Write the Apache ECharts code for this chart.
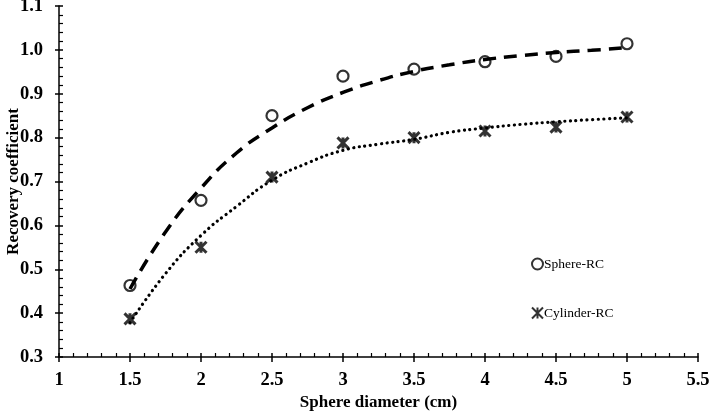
<!DOCTYPE html>
<html>
<head>
<meta charset="utf-8">
<script src="https://cdn.jsdelivr.net/npm/echarts@6/dist/echarts.min.js"></script>
<style>
  html, body { margin: 0; padding: 0; background: #fff; }
  #chart { width: 709px; height: 415px; }
</style>
</head>
<body>
<div id="chart"></div>
<script>
// measured points
var diameters = [1.5, 2, 2.5, 3, 3.5, 4, 4.5, 5];
var sphereRC = [0.463, 0.657, 0.850, 0.940, 0.956, 0.973, 0.985, 1.014];
var cylinderRC = [0.387, 0.550, 0.710, 0.788, 0.800, 0.815, 0.824, 0.847];

// fitted trend curves
var fitX = [1.5, 1.75, 2, 2.25, 2.5, 2.75, 3, 3.25, 3.5, 3.75, 4, 4.25, 4.5, 4.75, 5];
var sphereFit = [0.455, 0.585, 0.685, 0.765, 0.822, 0.868, 0.903, 0.930, 0.951, 0.966, 0.978, 0.987, 0.994, 0.999, 1.005];
var cylinderFit = [0.378, 0.490, 0.577, 0.643, 0.703, 0.742, 0.771, 0.785, 0.796, 0.812, 0.822, 0.830, 0.836, 0.841, 0.845];

function pairs(xs, ys) {
    return xs.map(function (x, i) { return [x, ys[i]]; });
}

var font = 'Liberation Serif';
var starPath = 'path://M0,0L10,10M10,0L0,10M5,0L5,10';

var chart = echarts.init(document.getElementById('chart'));

var option = {
    animation: false,
    backgroundColor: '#fff',
    grid: { left: 59, right: 11, top: 6, bottom: 58, outerBoundsMode: 'none', containLabel: false },
    legend: {
        data: ['Sphere-RC', 'Cylinder-RC'],
        orient: 'vertical',
        left: 526,
        top: 252,
        itemGap: 35,
        itemWidth: 11,
        itemHeight: 11,
        textStyle: { fontFamily: font, fontSize: 13.5, color: '#000', padding: [0, 0, 0, -4] }
    },
    xAxis: [
        {
            type: 'value',
            min: 1,
            max: 5.5,
            interval: 0.5,
            position: 'bottom',
            name: 'Sphere diameter (cm)',
            nameLocation: 'middle',
            nameGap: 37,
            nameMoveOverlap: false,
            nameTextStyle: { fontFamily: font, fontSize: 17, fontWeight: 'bold', color: '#000' },
            axisLine: { lineStyle: { color: '#000', width: 1.5 } },
            axisTick: { show: true, inside: false, length: 5, lineStyle: { color: '#000', width: 1.5 } },
            axisLabel: { margin: 14, fontFamily: font, fontSize: 18.5, fontWeight: 'bold', color: '#000' },
            splitLine: { show: false }
        },
        {
            type: 'value',
            min: 1,
            max: 5.5,
            interval: 0.5,
            position: 'bottom',
            axisLine: { show: false },
            axisTick: { show: true, inside: true, length: 4, lineStyle: { color: '#000', width: 1.5 } },
            minorTick: { show: true, splitNumber: 5, length: 4, lineStyle: { color: '#000', width: 1.2 } },
            axisLabel: { show: false },
            splitLine: { show: false }
        }
    ],
    yAxis: [
        {
            type: 'value',
            min: 0.3,
            max: 1.1,
            interval: 0.1,
            position: 'left',
            name: 'Recovery coefficient',
            nameLocation: 'middle',
            nameGap: 37,
            nameMoveOverlap: false,
            nameTextStyle: { fontFamily: font, fontSize: 17, fontWeight: 'bold', color: '#000' },
            axisLine: { show: true, lineStyle: { color: '#000', width: 1.5 } },
            axisTick: { show: true, inside: false, length: 4, lineStyle: { color: '#000', width: 1.5 } },
            axisLabel: {
                margin: 16, fontFamily: font, fontSize: 18.5, fontWeight: 'bold', color: '#000',
                formatter: function (v) { return v.toFixed(1); }
            },
            splitLine: { show: false }
        },
        {
            type: 'value',
            min: 0.3,
            max: 1.1,
            interval: 0.1,
            position: 'left',
            axisLine: { show: false },
            axisTick: { show: true, inside: true, length: 4, lineStyle: { color: '#000', width: 1.5 } },
            minorTick: { show: true, splitNumber: 5, length: 4, lineStyle: { color: '#000', width: 1.2 } },
            axisLabel: { show: false },
            splitLine: { show: false }
        }
    ],
    series: [
        {
            name: 'Sphere fit',
            type: 'line',
            data: pairs(fitX, sphereFit),
            smooth: true,
            showSymbol: false,
            silent: true,
            lineStyle: { color: '#000', width: 3.5, type: [13, 8] },
            z: 2
        },
        {
            name: 'Cylinder fit',
            type: 'line',
            data: pairs(fitX, cylinderFit),
            smooth: true,
            showSymbol: false,
            silent: true,
            lineStyle: { color: '#000', width: 3.2, type: [0.1, 5.5], cap: 'round' },
            z: 2
        },
        {
            name: 'Sphere-RC',
            type: 'scatter',
            data: pairs(diameters, sphereRC),
            symbol: 'circle',
            symbolSize: 11,
            itemStyle: { color: 'rgba(255,255,255,0)', borderColor: '#000', borderWidth: 2.2 },
            z: 3
        },
        {
            name: 'Cylinder-RC',
            type: 'scatter',
            data: pairs(diameters, cylinderRC),
            symbol: starPath,
            symbolSize: 11,
            itemStyle: { color: 'rgba(255,255,255,0)', borderColor: '#000', borderWidth: 3 },
            z: 3
        }
    ]
};

chart.setOption(option);
</script>
</body>
</html>
